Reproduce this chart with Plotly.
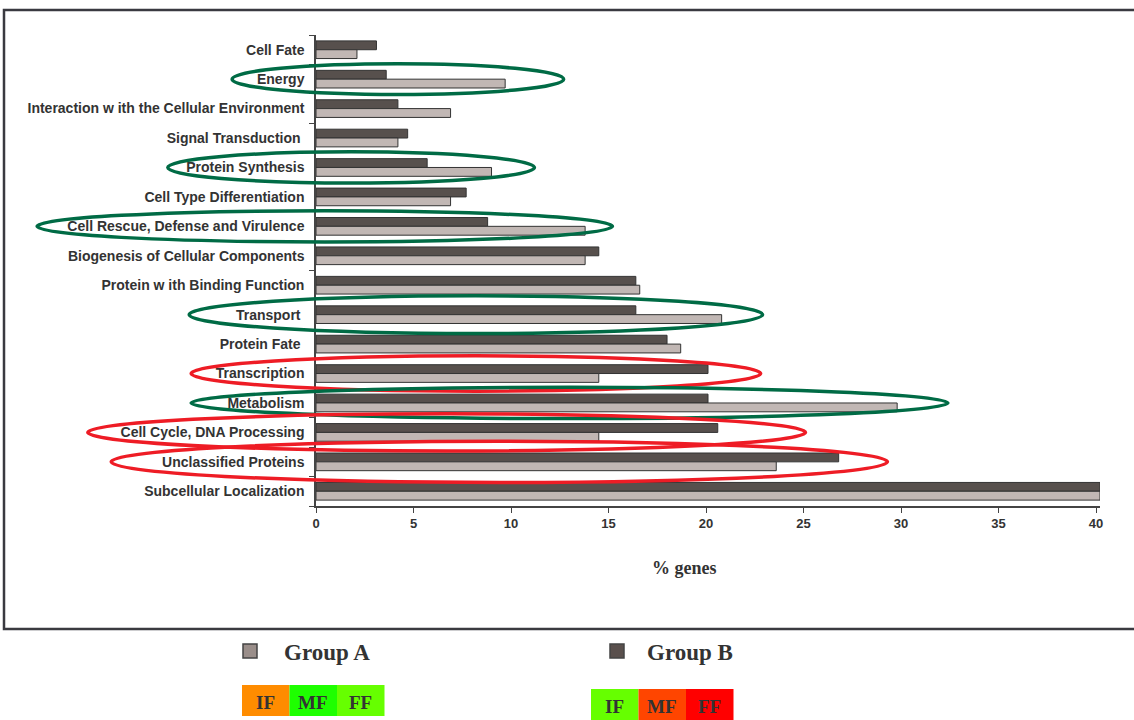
import plotly.graph_objects as go

# Functional categories, listed top to bottom
categories = [
    "Cell Fate",
    "Energy",
    "Interaction w ith the Cellular Environment",
    "Signal Transduction\u00a0",
    "Protein Synthesis",
    "Cell Type Differentiation",
    "Cell Rescue, Defense and Virulence",
    "Biogenesis of Cellular Components",
    "Protein w ith Binding Function",
    "Transport\u00a0",
    "Protein Fate\u00a0",
    "Transcription",
    "Metabolism",
    "Cell Cycle, DNA Processing",
    "Unclassified Proteins",
    "Subcellular Localization",
]

# % of genes per category
group_a = [2.1, 9.7, 6.9, 4.2, 9.0, 6.9, 13.8, 13.8, 16.6, 20.8, 18.7, 14.5, 29.8, 14.5, 23.6, 40.2]
group_b = [3.1, 3.6, 4.2, 4.7, 5.7, 7.7, 8.8, 14.5, 16.4, 16.4, 18.0, 20.1, 20.1, 20.6, 26.8, 40.2]

x_ticks = [0, 5, 10, 15, 20, 25, 30, 35, 40]

# Highlighted categories: (category index, colour, x from, x to, half height in rows)
GREEN = "#006B45"
RED = "#EE1C25"
highlights = [
    (1, GREEN, -4.3, 12.7, 0.52),
    (4, GREEN, -7.6, 11.2, 0.53),
    (6, GREEN, -14.3, 15.2, 0.53),
    (9, GREEN, -6.5, 22.9, 0.64),
    (11, RED, -6.4, 22.8, 0.60),
    (12, GREEN, -6.4, 32.4, 0.53),
    (13, RED, -11.7, 25.1, 0.63),
    (14, RED, -10.5, 29.3, 0.70),
]

# Colour-coded phase boxes under each legend entry
phase_labels = ["IF", "MF", "FF"]
phase_colors_a = ["#FF8C00", "#1EFF00", "#66FF00"]
phase_colors_b = ["#66FF00", "#FF4500", "#FF0000"]

W, H = 1134, 720
L, R, T, B = 316, 34, 35, 214
XMAX = 40.2
PW, PH = W - L - R, H - T - B
N = len(categories)


def px(xp):
    return (xp - L) / PW


def py(yp):
    return 1 - (yp - T) / PH


fig = go.Figure()
fig.add_trace(go.Bar(
    y=categories, x=group_b, orientation="h", name="Group B",
    marker=dict(color="#57504D", line=dict(color="#333333", width=1)),
))
fig.add_trace(go.Bar(
    y=categories, x=group_a, orientation="h", name="Group A",
    marker=dict(color="#C1B7B4", line=dict(color="#333333", width=1)),
))

shapes = []
for idx, col, x0, x1, hh in highlights:
    yc = 1 - (idx + 0.5) / N
    shapes.append(dict(
        type="circle", xref="paper", yref="paper",
        x0=x0 / XMAX, x1=x1 / XMAX, y0=yc - hh / N, y1=yc + hh / N,
        line=dict(color=col, width=3.5), layer="above",
    ))

# outer frame
shapes.append(dict(type="rect", xref="paper", yref="paper",
                   x0=px(4), x1=px(1145), y0=py(629), y1=py(10),
                   line=dict(color="#3A3A40", width=2.5), layer="above"))


def label(text, x, y, size, xanchor="center"):
    return dict(text="<b>%s</b>" % text, xref="paper", yref="paper",
                x=px(x), y=py(y), xanchor=xanchor, yanchor="middle", showarrow=False,
                font=dict(family="Liberation Serif", size=size, color="#333333"))


annotations = [label("% genes", 684, 568, 18)]

# legend entries
for name, color, sx, tx in [("Group A", "#9A8E8A", 243, 282), ("Group B", "#5A504D", 610, 645)]:
    shapes.append(dict(type="rect", xref="paper", yref="paper",
                       x0=px(sx), x1=px(sx + 14), y0=py(658), y1=py(644),
                       fillcolor=color, line=dict(color="#444444", width=1.5)))
    annotations.append(label(name, tx, 652, 23, xanchor="left"))

for colors, x_start, y_top in [(phase_colors_a, 242, 685), (phase_colors_b, 591, 689)]:
    cw = 47.5
    for i, (lab, c) in enumerate(zip(phase_labels, colors)):
        x0 = x_start + i * cw
        shapes.append(dict(type="rect", xref="paper", yref="paper",
                           x0=px(x0), x1=px(x0 + cw), y0=py(y_top + 31), y1=py(y_top),
                           fillcolor=c, line=dict(width=0), layer="below"))
        annotations.append(label(lab, x0 + cw / 2, y_top + 17, 19))

fig.update_layout(
    width=W, height=H,
    margin=dict(l=L, r=R, t=T, b=B),
    paper_bgcolor="white", plot_bgcolor="white",
    barmode="group", bargap=0.4, bargroupgap=0,
    showlegend=False,
    shapes=shapes, annotations=annotations,
    font=dict(family="Liberation Sans", color="#333333"),
)
fig.update_xaxes(
    range=[0, XMAX], tickvals=x_ticks, ticktext=["<b>%d</b>" % v for v in x_ticks],
    showgrid=False, zeroline=False, showline=True, linecolor="#444444", linewidth=1.5,
    ticks="outside", ticklen=5, tickcolor="#444444", tickfont=dict(size=13, color="#333333"),
)
fig.update_yaxes(
    categoryorder="array", categoryarray=categories, autorange="reversed",
    tickvals=categories, ticktext=["<b>%s</b>" % c for c in categories],
    showgrid=False, zeroline=False, showline=True, linecolor="#444444", linewidth=1.5,
    ticks="outside", ticklen=5, tickcolor="#444444", tickson="boundaries",
    tickfont=dict(size=14, color="#333333"), ticklabelstandoff=7,
)

fig.write_html("out.html")
